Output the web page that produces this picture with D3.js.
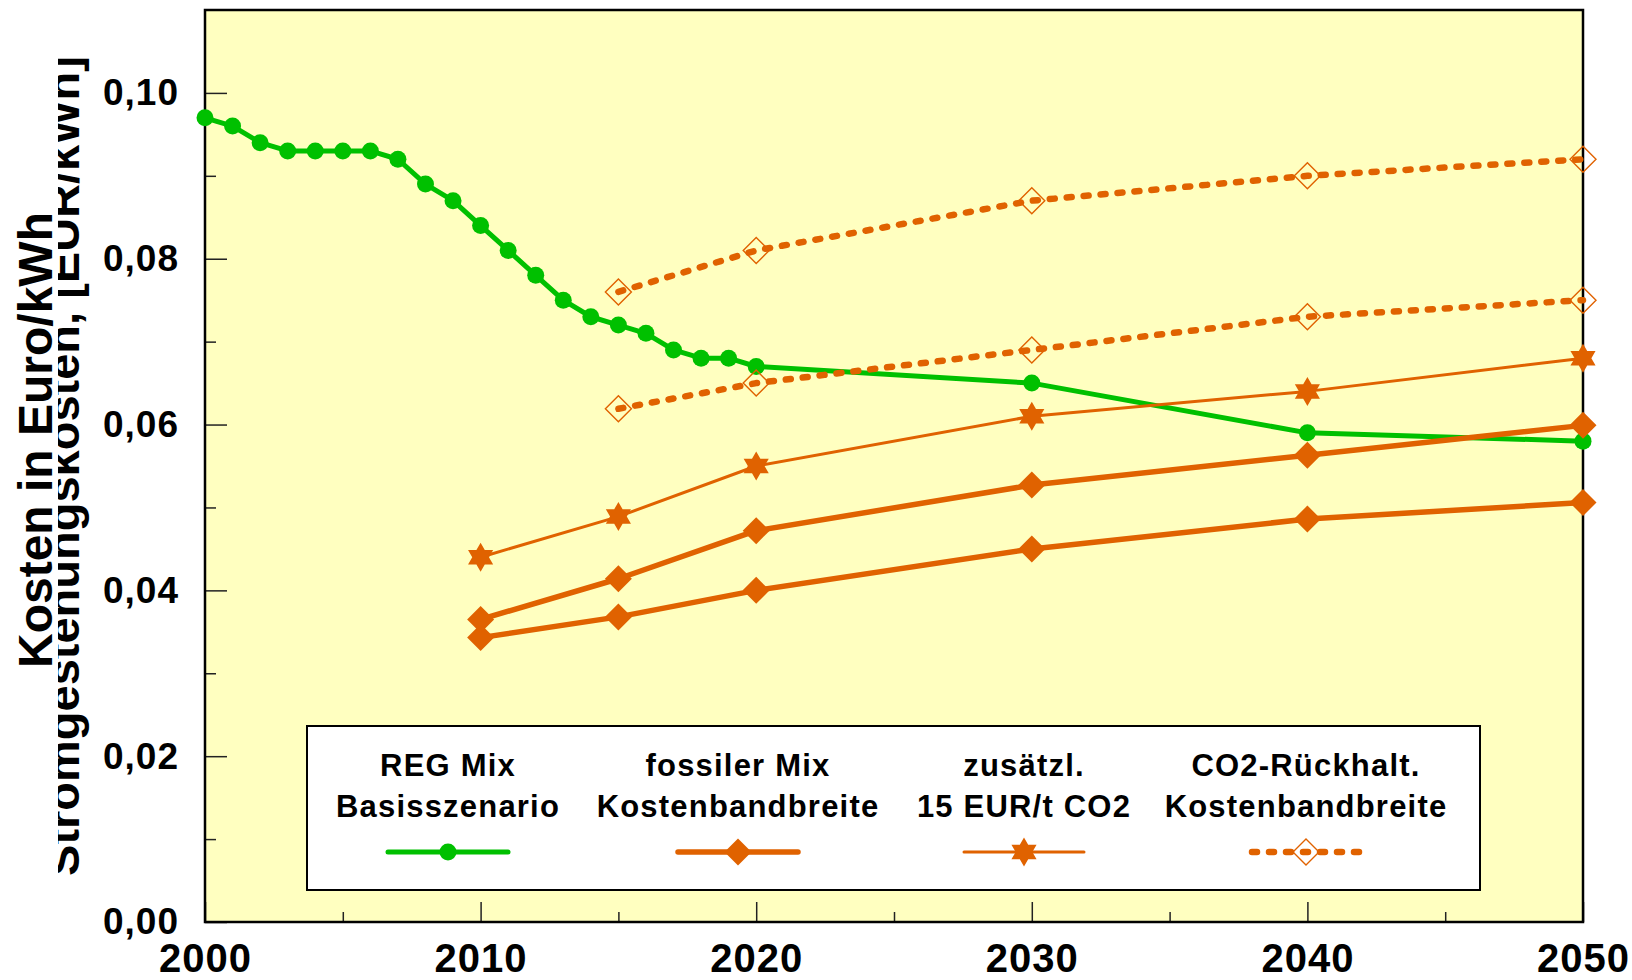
<!DOCTYPE html>
<html>
<head>
<meta charset="utf-8">
<script src="https://cdn.jsdelivr.net/npm/d3@7/dist/d3.min.js"></script>
<style>
  html, body { margin: 0; padding: 0; background: #ffffff; }
  svg { display: block; font-family: "Liberation Sans", Arial, Helvetica, sans-serif; }
</style>
</head>
<body>
<script>
// ---------------- DATA ----------------
const regYears  = [2000,2001,2002,2003,2004,2005,2006,2007,2008,2009,2010,2011,2012,2013,2014,2015,2016,2017,2018,2019,2020,2030,2040,2050];
const regValues = [0.097,0.096,0.094,0.093,0.093,0.093,0.093,0.092,0.089,0.087,0.084,0.081,0.078,0.075,0.073,0.072,0.071,0.069,0.068,0.068,0.067,0.065,0.059,0.058];

const fossilYears = [2010,2015,2020,2030,2040,2050];
const fossilLow   = [0.0343,0.0368,0.0400,0.0450,0.0486,0.0506];
const fossilHigh  = [0.0365,0.0414,0.0472,0.0527,0.0563,0.0599];
const co2TaxValues = [0.0440,0.0489,0.0550,0.0610,0.0640,0.0680];

const ccsYears = [2015,2020,2030,2040,2050];
const ccsLow   = [0.0619,0.0650,0.0690,0.0730,0.0750];
const ccsHigh  = [0.0760,0.0810,0.0870,0.0900,0.0920];

const yTickValues = [0,0.02,0.04,0.06,0.08,0.10];
const yMinorTicks = [0.01,0.03,0.05,0.07,0.09];
const xTickValues = [2000,2010,2020,2030,2040,2050];
const xMinorTicks = [2005,2015,2025,2035,2045];

const legendTitles = [
  ["REG Mix","Basisszenario"],
  ["fossiler Mix","Kostenbandbreite"],
  ["zusätzl.","15 EUR/t CO2"],
  ["CO2-Rückhalt.","Kostenbandbreite"]
];
const yTitleMain = "Kosten in Euro/kWh";
const yTitleBehind = "Stromgestehungskosten, [EUR/kWh]";

// ---------------- STYLE ----------------
const GREEN = "#00c000";
const ORANGE = "#e06200";
const BG = "#ffffc0";

const W = 1632, H = 980;
const plot = {left: 205, right: 1583, top: 10, bottom: 922};

const svg = d3.select("body").append("svg").attr("width", W).attr("height", H);

const x = d3.scaleLinear().domain([2000, 2050]).range([plot.left, plot.right]);
const y = d3.scaleLinear().domain([0, 0.11]).range([plot.bottom, plot.top]);

const locale = d3.formatLocale({decimal: ",", thousands: ".", grouping: [3], currency: ["", "€"]});
const fmtY = locale.format(".2f");

// plot background
svg.append("rect")
  .attr("x", plot.left).attr("y", plot.top)
  .attr("width", plot.right - plot.left).attr("height", plot.bottom - plot.top)
  .attr("fill", BG);

// ---------------- Y axis title ----------------
svg.append("clipPath").attr("id", "titleClip")
  .append("rect").attr("x", 58).attr("y", 0).attr("width", 100).attr("height", H);

svg.append("g").attr("clip-path", "url(#titleClip)")
  .append("text")
  .attr("transform", "translate(79,466) rotate(-90)")
  .attr("text-anchor", "middle")
  .attr("font-size", 47).attr("font-weight", "bold").attr("fill", "#000")
  .text(yTitleBehind);

svg.append("text")
  .attr("transform", "translate(52,440) rotate(-90)")
  .attr("text-anchor", "middle")
  .attr("font-size", 48).attr("font-weight", "bold").attr("fill", "#000")
  .text(yTitleMain);

// ---------------- Axes ----------------
const yAxis = d3.axisLeft(y).tickValues(yTickValues).tickFormat(fmtY).tickSize(-22).tickPadding(26);
const yAxisMinor = d3.axisLeft(y).tickValues(yMinorTicks).tickFormat("").tickSize(-11);
const xAxis = d3.axisBottom(x).tickValues(xTickValues).tickFormat(d3.format("d")).tickSize(-20).tickPadding(22);
const xAxisMinor = d3.axisBottom(x).tickValues(xMinorTicks).tickFormat("").tickSize(-10);

function styleAxis(g, fs, ls) {
  g.select(".domain").remove();
  g.selectAll(".tick line").attr("stroke", "#222").attr("stroke-width", 1.5);
  g.selectAll(".tick text")
    .attr("font-size", fs).attr("font-weight", "bold").attr("fill", "#000")
    .attr("font-family", "'Liberation Sans', Arial, sans-serif")
    .attr("letter-spacing", ls);
}

svg.append("g").attr("transform", `translate(${plot.left},0)`).call(yAxis).call(g => styleAxis(g, 37, 1));
svg.append("g").attr("transform", `translate(${plot.left},0)`).call(yAxisMinor).call(g => styleAxis(g, 37, 0));
svg.append("g").attr("transform", `translate(0,${plot.bottom})`).call(xAxis).call(g => styleAxis(g, 40, 1));
svg.append("g").attr("transform", `translate(0,${plot.bottom})`).call(xAxisMinor).call(g => styleAxis(g, 40, 0));

// ---------------- Legend box ----------------
const legend = {x: 307, y: 726, w: 1173, h: 164};
svg.append("rect")
  .attr("x", legend.x).attr("y", legend.y).attr("width", legend.w).attr("height", legend.h)
  .attr("fill", "#ffffff").attr("stroke", "#000").attr("stroke-width", 2);

// frame
svg.append("rect")
  .attr("x", plot.left).attr("y", plot.top)
  .attr("width", plot.right - plot.left).attr("height", plot.bottom - plot.top)
  .attr("fill", "none").attr("stroke", "#000").attr("stroke-width", 2.5);

// ---------------- Marker shapes ----------------
function diamondPath(r) {
  return `M0,${-r}L${r},0L0,${r}L${-r},0Z`;
}
function hexagramPath(R) {
  const r = R / Math.sqrt(3);
  const pts = [];
  for (let i = 0; i < 12; i++) {
    const a = -Math.PI / 2 + i * Math.PI / 6;
    const rr = (i % 2 === 0) ? R : r;
    pts.push([rr * Math.cos(a), rr * Math.sin(a)]);
  }
  return "M" + pts.map(p => p[0].toFixed(2) + "," + p[1].toFixed(2)).join("L") + "Z";
}

function drawMarker(g, type, cx, cy) {
  if (type === "circle") {
    g.append("circle").attr("cx", cx).attr("cy", cy).attr("r", 8.5).attr("fill", GREEN);
  } else if (type === "diamond") {
    g.append("path").attr("d", diamondPath(13.5)).attr("transform", `translate(${cx},${cy})`).attr("fill", ORANGE);
  } else if (type === "star") {
    g.append("path").attr("d", hexagramPath(14.5)).attr("transform", `translate(${cx},${cy})`).attr("fill", ORANGE);
  } else if (type === "hollow") {
    g.append("path").attr("d", diamondPath(13)).attr("transform", `translate(${cx},${cy})`)
      .attr("fill", "none").attr("stroke", ORANGE).attr("stroke-width", 1.4);
  }
}

const DOTS = "5 12";
const DOT_W = 6.5;
const series = [
  {years: regYears, values: regValues, color: GREEN, width: 5, dash: null, marker: "circle"},
  {years: ccsYears, values: ccsHigh, color: ORANGE, width: DOT_W, dash: DOTS, marker: "hollow"},
  {years: ccsYears, values: ccsLow, color: ORANGE, width: DOT_W, dash: DOTS, marker: "hollow"},
  {years: fossilYears, values: co2TaxValues, color: ORANGE, width: 3, dash: null, marker: "star"},
  {years: fossilYears, values: fossilLow, color: ORANGE, width: 5.5, dash: null, marker: "diamond"},
  {years: fossilYears, values: fossilHigh, color: ORANGE, width: 5.5, dash: null, marker: "diamond"}
];

const line = d3.line()
  .x(d => x(d[0])).y(d => y(d[1]))
  .curve(d3.curveLinear);

const marks = svg.append("g");
series.forEach(s => {
  const pts = s.years.map((yr, i) => [yr, s.values[i]]);
  const g = marks.append("g");
  g.append("path")
    .attr("d", line(pts))
    .attr("fill", "none")
    .attr("stroke", s.color)
    .attr("stroke-width", s.width)
    .attr("stroke-linecap", "round")
    .attr("stroke-linejoin", "round")
    .attr("stroke-dasharray", s.dash);
  pts.forEach(p => drawMarker(g, s.marker, x(p[0]), y(p[1])));
});

// ---------------- Legend contents ----------------
const legendCenters = [448, 738, 1024, 1306];
const legendItems = [
  {color: GREEN, width: 5, dash: null, marker: "circle"},
  {color: ORANGE, width: 5.5, dash: null, marker: "diamond"},
  {color: ORANGE, width: 3, dash: null, marker: "star"},
  {color: ORANGE, width: DOT_W, dash: DOTS, marker: "hollow"}
];
const lg = svg.append("g");
legendItems.forEach((it, i) => {
  const cx = legendCenters[i];
  const lines = legendTitles[i];
  lines.forEach((t, j) => {
    lg.append("text")
      .attr("x", cx).attr("y", 776 + j * 41)
      .attr("text-anchor", "middle")
      .attr("font-size", 31).attr("font-weight", "bold")
      .attr("letter-spacing", 1.2)
      .attr("fill", "#000")
      .text(t);
  });
  const half = it.dash ? 54 : 60;
  lg.append("line")
    .attr("x1", cx - half).attr("x2", cx + half)
    .attr("y1", 852).attr("y2", 852)
    .attr("stroke", it.color).attr("stroke-width", it.width)
    .attr("stroke-linecap", "round")
    .attr("stroke-dasharray", it.dash);
  drawMarker(lg, it.marker, cx, 852);
});
</script>
</body>
</html>
